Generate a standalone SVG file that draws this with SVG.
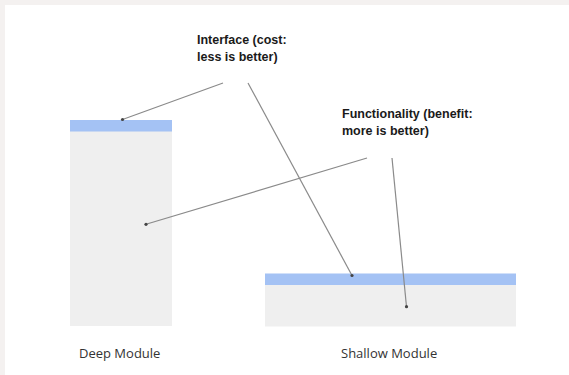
<svg xmlns="http://www.w3.org/2000/svg" width="569" height="375" viewBox="0 0 569 375">
<style>
.iface{fill:#a4c2f4}
.body{fill:#efefef}
.lead{stroke:#8a8a8a;stroke-width:1.2;fill:none}
.dot{fill:#444}
.note{font-family:"Liberation Sans",Arial,sans-serif;font-weight:bold;font-size:12.5px;fill:#1a1a1a}
.cap{font-family:"Open Sans","Noto Sans",sans-serif;font-size:13px;fill:#333}
</style>
<rect x="0" y="0" width="569" height="375" fill="#f4f1f0"/>
<rect x="5" y="5" width="564" height="370" fill="#ffffff"/>
<g id="deep-module">
<rect class="body" x="70" y="131" width="102" height="195"/>
<rect class="iface" x="70" y="120" width="102" height="11.5"/>
<text class="cap" x="79" y="358">Deep Module</text>
</g>
<g id="shallow-module">
<rect class="body" x="265" y="285" width="251" height="41.5"/>
<rect class="iface" x="265" y="273.5" width="251" height="11.5"/>
<text class="cap" x="341" y="358">Shallow Module</text>
</g>
<g id="interface-label">
<text class="note" x="197" y="44">Interface (cost:</text>
<text class="note" x="197" y="61">less is better)</text>
</g>
<g id="functionality-label">
<text class="note" x="342" y="118">Functionality (benefit:</text>
<text class="note" x="342" y="135">more is better)</text>
</g>
<g id="connectors">
<line class="lead" x1="223" y1="83" x2="122.5" y2="119.5"/>
<line class="lead" x1="248" y1="83" x2="352" y2="275.5"/>
<line class="lead" x1="367" y1="158" x2="146" y2="224.3"/>
<line class="lead" x1="392" y1="158" x2="406.5" y2="306.7"/>
<circle class="dot" cx="122.5" cy="119.5" r="1.6"/>
<circle class="dot" cx="352" cy="275.5" r="1.6"/>
<circle class="dot" cx="146" cy="224.3" r="1.6"/>
<circle class="dot" cx="406.5" cy="306.7" r="1.6"/>
</g>
</svg>
